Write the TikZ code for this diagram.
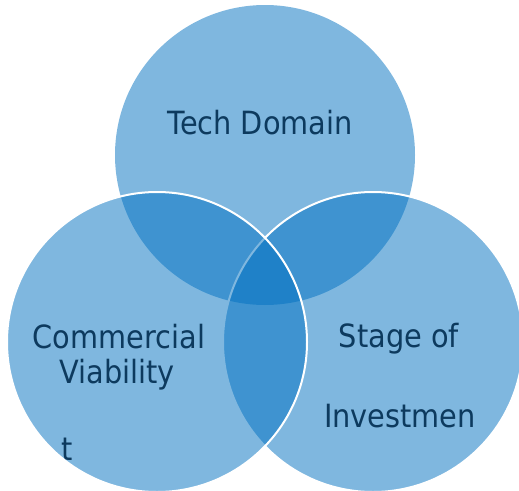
\documentclass[tikz,border=0pt]{standalone}
\usepackage{fontspec}
\setmainfont{DejaVu Sans}[FakeStretch=0.9]
\definecolor{vennfill}{RGB}{0,112,192}
\definecolor{txtnavy}{RGB}{13,58,94}
\begin{document}
\begin{tikzpicture}[x=1pt,y=-1pt,
  venn/.style={circle, minimum size=300pt, inner sep=0pt, fill=vennfill, fill opacity=0.5},
  rim/.style={draw=white, line width=2pt, draw opacity=1},
  lbl/.style={anchor=base, inner sep=0pt, text=txtnavy, font=\fontsize{32}{38}\selectfont}]
\useasboundingbox (0,0) rectangle (519,490);
\clip (0,0) rectangle (519,490);
\node[venn] (tech) at (265,155) {};
\node[venn, rim] (stage) at (373,342) {};
\node[venn, rim] (comm) at (157,342) {};
\node[lbl] (techlbl) at (260,134) {Tech Domain};
\node[lbl] (comm1) at (119,348) {Commercial};
\node[lbl] (comm2) at (117,383) {Viability};
\node[lbl] (commt) at (67,460) {t};
\node[lbl] (stage1) at (399,347) {Stage of};
\node[lbl] (stage2) at (400,427) {Investmen};
\end{tikzpicture}
\end{document}
